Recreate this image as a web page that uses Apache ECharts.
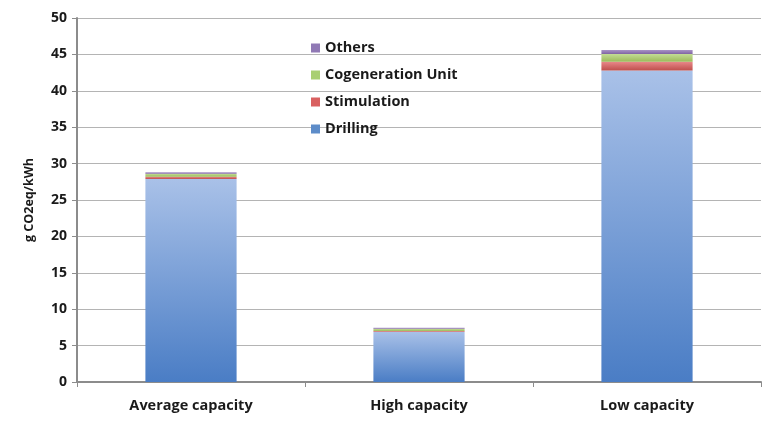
<!DOCTYPE html>
<html>
<head>
<meta charset="utf-8">
<script src="https://cdn.jsdelivr.net/npm/echarts@6/dist/echarts.min.js"></script>
<style>
  html, body { margin: 0; padding: 0; background: #fff; }
  #chart { width: 778px; height: 423px; }
</style>
</head>
<body>
<div id="chart"></div>
<script>
const categories = ['Average capacity', 'High capacity', 'Low capacity']
const drilling = [27.9, 6.9, 42.8]
const stimulation = [0.3, 0.1, 1.2]
const cogeneration = [0.4, 0.3, 1.05]
const others = [0.2, 0.15, 0.55]

const FONT = 'Open Sans, Noto Sans, sans-serif'
const grad = (top, bottom) => new echarts.graphic.LinearGradient(0, 0, 0, 1, [
  { offset: 0, color: top }, { offset: 1, color: bottom },
])

const seg = (name, data, top, bottom) => ({
  name, type: 'bar', stack: 'total', data, barWidth: '40%',
  itemStyle: { color: grad(top, bottom) },
  emphasis: { disabled: true },
})

const series = [
  seg('Drilling', drilling, '#a9c1e8', '#4a7dc5'),
  seg('Stimulation', stimulation, '#e8898a', '#c0504d'),
  seg('Cogeneration Unit', cogeneration, '#c3dc95', '#9bbb59'),
  seg('Others', others, '#a893c6', '#8064a2'),
]

const legendColors = { 'Drilling': '#5d8cc9', 'Stimulation': '#d96060', 'Cogeneration Unit': '#a9cf72', 'Others': '#9079b5' }

const chart = echarts.init(document.getElementById('chart'), null, { renderer: 'canvas' })
chart.setOption({
  animation: false,
  textStyle: { fontFamily: FONT },
  grid: { left: 77, right: 17, top: 18, bottom: 41 },
  legend: {
    orient: 'vertical', left: 306, top: 35, itemGap: 11,
    itemWidth: 9, itemHeight: 9, icon: 'rect',
    textStyle: { fontFamily: FONT, fontSize: 14.5, lineHeight: 16, fontWeight: 'bold', color: '#1a1a1a' },
    data: ['Others', 'Cogeneration Unit', 'Stimulation', 'Drilling'].map((n) => ({ name: n, itemStyle: { color: legendColors[n] } })),
  },
  xAxis: {
    type: 'category', data: categories,
    axisLine: { lineStyle: { color: '#8c8c8c', width: 2 } },
    axisTick: { show: true, length: 5, lineStyle: { color: '#8c8c8c' } },
    axisLabel: { color: '#1a1a1a', fontSize: 14.5, fontWeight: 'bold', margin: 16 },
  },
  yAxis: {
    type: 'value', min: 0, max: 50, interval: 5,
    name: 'g CO2eq/kWh', nameLocation: 'middle', nameGap: 41, nameRotate: 90,
    nameTextStyle: { color: '#1a1a1a', fontSize: 12.5, fontWeight: 'bold' },
    axisLine: { show: true, lineStyle: { color: '#8c8c8c', width: 2 } },
    axisTick: { show: true, length: 5, lineStyle: { color: '#8c8c8c' } },
    axisLabel: { color: '#1a1a1a', fontSize: 14, fontWeight: 'bold', margin: 10 },
    splitLine: { lineStyle: { color: '#b4b4b4', width: 1 } },
  },
  series,
})
</script>
</body>
</html>
